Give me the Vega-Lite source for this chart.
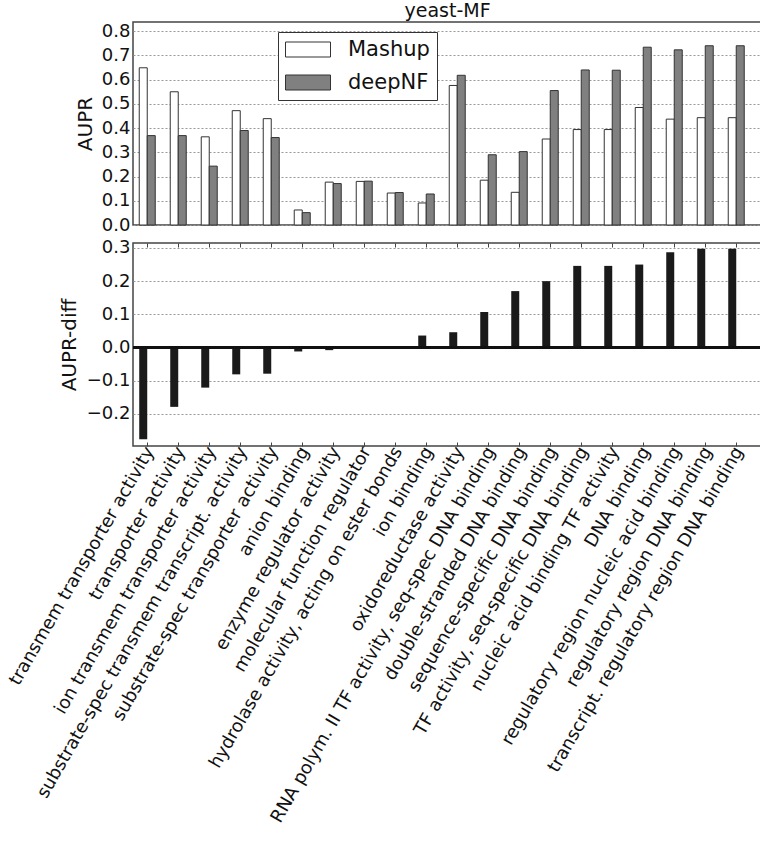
{
  "$schema": "https://vega.github.io/schema/vega-lite/v6.json",
  "padding": {"left": 5, "top": 1, "right": 0, "bottom": 0},
  "config": {
    "font": "DejaVu Sans",
    "view": {"stroke": "#444", "strokeWidth": 1.5},
    "axis": {
      "labelFont": "DejaVu Sans", "titleFont": "DejaVu Sans",
      "labelColor": "#111", "titleColor": "#111",
      "labelFontSize": 18, "titleFontSize": 20, "titleFontWeight": "normal",
      "domain": false, "gridColor": "#999", "gridDash": [2, 2], "gridWidth": 1
    },
    "concat": {"spacing": 3}
  },
  "datasets": {
    "aupr": [
      {"term": "transmem transporter activity", "method": "Mashup", "aupr": 0.649},
      {"term": "transmem transporter activity", "method": "deepNF", "aupr": 0.369},
      {"term": "transporter activity", "method": "Mashup", "aupr": 0.55},
      {"term": "transporter activity", "method": "deepNF", "aupr": 0.369},
      {"term": "ion transmem transporter activity", "method": "Mashup", "aupr": 0.364},
      {"term": "ion transmem transporter activity", "method": "deepNF", "aupr": 0.243},
      {"term": "substrate-spec transmem transcript. activity", "method": "Mashup", "aupr": 0.472},
      {"term": "substrate-spec transmem transcript. activity", "method": "deepNF", "aupr": 0.39},
      {"term": "substrate-spec transporter activity", "method": "Mashup", "aupr": 0.439},
      {"term": "substrate-spec transporter activity", "method": "deepNF", "aupr": 0.361},
      {"term": "anion binding", "method": "Mashup", "aupr": 0.062},
      {"term": "anion binding", "method": "deepNF", "aupr": 0.051},
      {"term": "enzyme regulator activity", "method": "Mashup", "aupr": 0.177},
      {"term": "enzyme regulator activity", "method": "deepNF", "aupr": 0.171},
      {"term": "molecular function regulator", "method": "Mashup", "aupr": 0.18},
      {"term": "molecular function regulator", "method": "deepNF", "aupr": 0.181},
      {"term": "hydrolase activity, acting on ester bonds", "method": "Mashup", "aupr": 0.132},
      {"term": "hydrolase activity, acting on ester bonds", "method": "deepNF", "aupr": 0.134},
      {"term": "ion binding", "method": "Mashup", "aupr": 0.091},
      {"term": "ion binding", "method": "deepNF", "aupr": 0.128},
      {"term": "oxidoreductase activity", "method": "Mashup", "aupr": 0.576},
      {"term": "oxidoreductase activity", "method": "deepNF", "aupr": 0.618},
      {"term": "RNA polym. II TF activity, seq-spec DNA binding", "method": "Mashup", "aupr": 0.185},
      {"term": "RNA polym. II TF activity, seq-spec DNA binding", "method": "deepNF", "aupr": 0.29},
      {"term": "double-stranded DNA binding", "method": "Mashup", "aupr": 0.135},
      {"term": "double-stranded DNA binding", "method": "deepNF", "aupr": 0.303},
      {"term": "sequence-specific DNA binding", "method": "Mashup", "aupr": 0.355},
      {"term": "sequence-specific DNA binding", "method": "deepNF", "aupr": 0.555},
      {"term": "TF activity, seq-specific DNA binding", "method": "Mashup", "aupr": 0.394},
      {"term": "TF activity, seq-specific DNA binding", "method": "deepNF", "aupr": 0.64},
      {"term": "nucleic acid binding TF activity", "method": "Mashup", "aupr": 0.394},
      {"term": "nucleic acid binding TF activity", "method": "deepNF", "aupr": 0.639},
      {"term": "DNA binding", "method": "Mashup", "aupr": 0.485},
      {"term": "DNA binding", "method": "deepNF", "aupr": 0.734},
      {"term": "regulatory region nucleic acid binding", "method": "Mashup", "aupr": 0.437},
      {"term": "regulatory region nucleic acid binding", "method": "deepNF", "aupr": 0.723},
      {"term": "regulatory region DNA binding", "method": "Mashup", "aupr": 0.443},
      {"term": "regulatory region DNA binding", "method": "deepNF", "aupr": 0.74},
      {"term": "transcript. regulatory region DNA binding", "method": "Mashup", "aupr": 0.443},
      {"term": "transcript. regulatory region DNA binding", "method": "deepNF", "aupr": 0.74}
    ],
    "diff": [
      {"term": "transmem transporter activity", "diff": -0.277},
      {"term": "transporter activity", "diff": -0.179},
      {"term": "ion transmem transporter activity", "diff": -0.121},
      {"term": "substrate-spec transmem transcript. activity", "diff": -0.081},
      {"term": "substrate-spec transporter activity", "diff": -0.079},
      {"term": "anion binding", "diff": -0.012},
      {"term": "enzyme regulator activity", "diff": -0.008},
      {"term": "molecular function regulator", "diff": 0.001},
      {"term": "hydrolase activity, acting on ester bonds", "diff": 0.003},
      {"term": "ion binding", "diff": 0.036},
      {"term": "oxidoreductase activity", "diff": 0.046},
      {"term": "RNA polym. II TF activity, seq-spec DNA binding", "diff": 0.107},
      {"term": "double-stranded DNA binding", "diff": 0.17},
      {"term": "sequence-specific DNA binding", "diff": 0.2},
      {"term": "TF activity, seq-specific DNA binding", "diff": 0.246},
      {"term": "nucleic acid binding TF activity", "diff": 0.246},
      {"term": "DNA binding", "diff": 0.25},
      {"term": "regulatory region nucleic acid binding", "diff": 0.287},
      {"term": "regulatory region DNA binding", "diff": 0.298},
      {"term": "transcript. regulatory region DNA binding", "diff": 0.298}
    ]
  },
  "resolve": {"scale": {"x": "independent", "xOffset": "independent", "y": "independent"}},
  "vconcat": [
    {
      "width": 629,
      "height": 203,
      "title": {"text": "yeast-MF", "fontSize": 19, "fontWeight": "normal", "font": "DejaVu Sans", "color": "#111", "anchor": "middle", "offset": 1},
      "data": {"name": "aupr"},
      "mark": {"type": "bar", "stroke": "#333", "strokeWidth": 1},
      "encoding": {
        "x": {"field": "term", "type": "nominal", "sort": null,
              "scale": {"paddingInner": 0.484, "paddingOuter": 0.387, "align": 0.26},
              "axis": null},
        "xOffset": {"field": "method", "type": "nominal", "sort": ["Mashup", "deepNF"],
                    "scale": {"domain": ["Mashup", "deepNF"], "paddingInner": 0, "paddingOuter": 0}},
        "y": {"field": "aupr", "type": "quantitative",
              "scale": {"domain": [0, 0.838], "nice": false},
              "axis": {"title": "AUPR", "values": [0, 0.1, 0.2, 0.3, 0.4, 0.5, 0.6, 0.7, 0.8], "format": ".1f",
                       "ticks": false, "labelPadding": 3, "titlePadding": 6, "grid": true}},
        "fill": {"field": "method", "type": "nominal",
                 "scale": {"domain": ["Mashup", "deepNF"], "range": ["#ffffff", "#808080"]},
                 "legend": {"title": null, "orient": "none", "legendX": 145, "legendY": 10,
                            "symbolType": "M-1,-0.75H3.5V0.75H-1Z", "symbolSize": 400,
                            "symbolStrokeColor": "#333", "symbolStrokeWidth": 1,
                            "labelFont": "DejaVu Sans", "labelFontSize": 21, "labelColor": "#111",
                            "labelOffset": 42, "padding": 7, "rowPadding": 11,
                            "strokeColor": "#333", "fillColor": "#ffffff"}}
      }
    },
    {
      "width": 629,
      "height": 203,
      "data": {"name": "diff"},
      "layer": [
        {
          "mark": {"type": "bar", "fill": "#1a1a1a"},
          "encoding": {
            "x": {"field": "term", "type": "nominal", "sort": null,
                  "scale": {"paddingInner": 0.484, "paddingOuter": 0.387, "align": 0.26},
                  "axis": {"title": null, "labelAngle": -60, "labelAlign": "right", "labelBaseline": "middle",
                           "labelFontSize": 18,
                           "labelOffset": 3, "labelPadding": 6, "tickSize": -4, "tickColor": "#444",
                           "labelLimit": 1000, "labelOverlap": false, "grid": false}},
            "xOffset": {"datum": "diff", "scale": {"domain": ["diff", "gap"], "paddingInner": 0, "paddingOuter": 0}},
            "y": {"field": "diff", "type": "quantitative",
                  "scale": {"domain": [-0.297, 0.315], "nice": false, "zero": false},
                  "axis": {"title": "AUPR-diff", "values": [-0.2, -0.1, 0, 0.1, 0.2, 0.3], "format": ".1f",
                           "ticks": false, "labelPadding": 3, "titlePadding": 7, "grid": true}}
          }
        },
        {
          "mark": {"type": "bar", "opacity": 0},
          "encoding": {
            "x": {"field": "term", "type": "nominal", "sort": null,
                  "axis": {"orient": "top", "title": null, "labels": false, "tickSize": -4, "tickColor": "#444", "grid": false}},
            "y": {"field": "diff", "type": "quantitative"}
          }
        },
        {
          "mark": {"type": "rule", "color": "#111", "strokeWidth": 1.3},
          "encoding": {"y": {"datum": 0}}
        }
      ],
      "resolve": {"axis": {"x": "independent"}}
    }
  ]
}
